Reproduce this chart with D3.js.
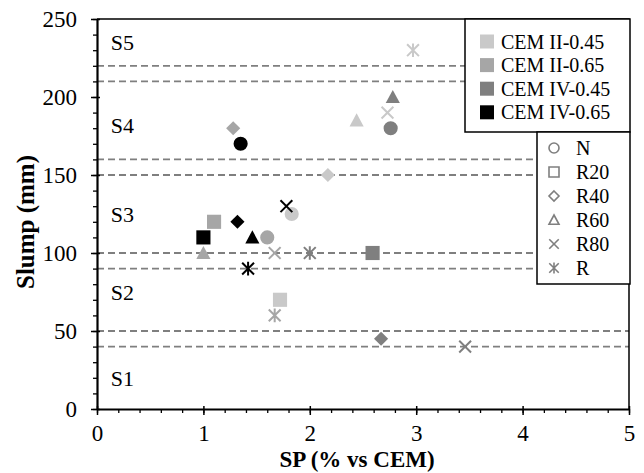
<!DOCTYPE html>
<html>
<head>
<meta charset="utf-8">
<script src="https://cdn.jsdelivr.net/npm/d3@7"></script>
<style>
  body { margin: 0; background: #fff; }
  svg { display: block; }
  text { font-family: "Liberation Serif", "Times New Roman", serif; fill: #000; }
</style>
</head>
<body>
<svg id="chart" width="644" height="473"></svg>
<script>
// Cement / water-cement series and their greys
const seriesNames = ["CEM II-0.45", "CEM II-0.65", "CEM IV-0.45", "CEM IV-0.65"];
const seriesColors = ["#c9c9c9", "#a6a6a6", "#7f7f7f", "#000000"];
// Aggregate replacement mixes (marker shape per mix)
const mixNames = ["N", "R20", "R40", "R60", "R80", "R"];

// SP dosage (% vs cement) and slump (mm), ordered as mixNames
const spCEMII045    = [1.83, 1.72, 2.17, 2.44, 2.73, 2.97];
const slumpCEMII045 = [125, 70, 150, 185, 190, 230];
const spCEMII065    = [1.60, 1.10, 1.28, 1.00, 1.67, 1.67];
const slumpCEMII065 = [110, 120, 180, 100, 100, 60];
const spCEMIV045    = [2.76, 2.59, 2.67, 2.78, 3.46, 2.00];
const slumpCEMIV045 = [180, 100, 45, 200, 40, 100];
const spCEMIV065    = [1.35, 1.00, 1.32, 1.46, 1.78, 1.42];
const slumpCEMIV065 = [170, 110, 120, 110, 130, 90];

// Slump class boundaries (mm) and class labels
const classLimits = [220, 210, 160, 150, 100, 90, 50, 40];
const classNames = ["S1", "S2", "S3", "S4", "S5"];
const classLabelY = [20, 75, 125, 182, 235];

const xTicks = [0, 1, 2, 3, 4, 5];
const yTicks = [0, 50, 100, 150, 200, 250];

const spBySeries = [spCEMII045, spCEMII065, spCEMIV045, spCEMIV065];
const slumpBySeries = [slumpCEMII045, slumpCEMII065, slumpCEMIV045, slumpCEMIV065];

const svg = d3.select("#chart");
const plot = { left: 97, right: 629, top: 19, bottom: 409 };

const x = d3.scaleLinear().domain([0, 5]).range([plot.left, plot.right]);
const y = d3.scaleLinear().domain([0, 250]).range([plot.bottom, plot.top]);

// Marker shapes, size = nominal width squared
const shapes = {
  N: { fill: true, draw(c, s) { const r = Math.sqrt(s) / 2; c.moveTo(r, 0); c.arc(0, 0, r, 0, 2 * Math.PI); } },
  R20: { fill: true, draw(c, s) { const r = Math.sqrt(s) / 2; c.rect(-r, -r, 2 * r, 2 * r); } },
  R40: { fill: true, draw(c, s) { const r = Math.sqrt(s) / 2; c.moveTo(0, -r); c.lineTo(r, 0); c.lineTo(0, r); c.lineTo(-r, 0); c.closePath(); } },
  R60: { fill: true, draw(c, s) { const r = Math.sqrt(s) / 2; c.moveTo(0, -r); c.lineTo(r, r * 0.85); c.lineTo(-r, r * 0.85); c.closePath(); } },
  R80: { fill: false, draw(c, s) { const r = Math.sqrt(s) / 2; c.moveTo(-r, -r); c.lineTo(r, r); c.moveTo(-r, r); c.lineTo(r, -r); } },
  R:   { fill: false, draw(c, s) { const r = Math.sqrt(s) / 2; c.moveTo(-r, -r); c.lineTo(r, r); c.moveTo(-r, r); c.lineTo(r, -r); c.moveTo(0, -r * 1.15); c.lineTo(0, r * 1.15); } }
};

// Slump class boundary lines
svg.append("g").selectAll("line").data(classLimits).join("line")
  .attr("x1", plot.left).attr("x2", plot.right)
  .attr("y1", d => y(d)).attr("y2", d => y(d))
  .attr("stroke", "#7f7f7f").attr("stroke-width", 1.8)
  .attr("stroke-dasharray", "7,4");

// Class labels
svg.append("g").selectAll("text").data(classNames).join("text")
  .attr("x", x(0.13)).attr("y", (d, i) => y(classLabelY[i]))
  .attr("dy", "0.35em")
  .attr("font-size", 22)
  .text(d => d);

// Plot frame (top and right)
svg.append("path")
  .attr("d", `M${plot.left},${plot.top}H${plot.right}V${plot.bottom}`)
  .attr("fill", "none").attr("stroke", "#000").attr("stroke-width", 1.5);

// Y axis: minor ticks, major ticks, labels
const yMinor = d3.range(0, 251, 10);
svg.append("g").attr("transform", `translate(${plot.left},0)`)
  .call(d3.axisLeft(y).tickValues(yMinor).tickSize(4).tickFormat(""))
  .call(g => g.select(".domain").remove())
  .call(g => g.selectAll("line").attr("stroke-width", 1.3));
svg.append("g").attr("transform", `translate(${plot.left},0)`)
  .call(d3.axisRight(y).tickValues(yTicks).tickSize(3).tickFormat(""))
  .call(g => g.select(".domain").remove())
  .call(g => g.selectAll("line").attr("stroke-width", 1.5));
svg.append("g").attr("transform", `translate(${plot.left},0)`)
  .call(d3.axisLeft(y).tickValues(yTicks).tickSizeInner(6).tickSizeOuter(0).tickPadding(14))
  .call(g => g.select(".domain").attr("stroke-width", 2.2))
  .call(g => g.selectAll("line").attr("stroke-width", 1.5))
  .call(g => g.selectAll("text").attr("font-size", 23).attr("font-family", "Liberation Serif"));

// X axis: minor ticks, major ticks, labels
const xMinor = d3.range(0, 5.001, 0.2);
svg.append("g").attr("transform", `translate(0,${plot.bottom})`)
  .call(d3.axisBottom(x).tickValues(xMinor).tickSize(4).tickFormat(""))
  .call(g => g.select(".domain").remove())
  .call(g => g.selectAll("line").attr("stroke-width", 1.3));
svg.append("g").attr("transform", `translate(0,${plot.bottom})`)
  .call(d3.axisTop(x).tickValues(xTicks).tickSize(3).tickFormat(""))
  .call(g => g.select(".domain").remove())
  .call(g => g.selectAll("line").attr("stroke-width", 1.5));
svg.append("g").attr("transform", `translate(0,${plot.bottom})`)
  .call(d3.axisBottom(x).tickValues(xTicks).tickSizeInner(6).tickSizeOuter(0).tickPadding(10).tickFormat(d3.format("d")))
  .call(g => g.select(".domain").attr("stroke-width", 2.2))
  .call(g => g.selectAll("line").attr("stroke-width", 1.5))
  .call(g => g.selectAll("text").attr("font-size", 23).attr("font-family", "Liberation Serif"));

// Axis titles
svg.append("text")
  .attr("x", 357).attr("y", 467)
  .attr("text-anchor", "middle")
  .attr("font-size", 23).attr("font-weight", "bold")
  .text("SP (% vs CEM)");
svg.append("text")
  .attr("transform", "translate(34,222) rotate(-90)")
  .attr("text-anchor", "middle")
  .attr("font-size", 25).attr("font-weight", "bold")
  .text("Slump (mm)");

// Data points
const points = [];
seriesNames.forEach((s, si) => {
  mixNames.forEach((m, mi) => {
    points.push({ series: si, mix: m, sp: spBySeries[si][mi], slump: slumpBySeries[si][mi] });
  });
});
const symbol = d3.symbol();
svg.append("g").selectAll("path").data(points).join("path")
  .attr("transform", d => `translate(${x(d.sp)},${y(d.slump)})`)
  .attr("d", d => symbol.type(shapes[d.mix]).size(d.mix === "R80" || d.mix === "R" ? 140 : 200)())
  .attr("fill", d => shapes[d.mix].fill ? seriesColors[d.series] : "none")
  .attr("stroke", d => seriesColors[d.series])
  .attr("stroke-width", d => shapes[d.mix].fill ? 0 : 2);

// Legend: series colours
const leg1 = svg.append("g");
leg1.append("rect")
  .attr("x", 465).attr("y", 19).attr("width", 165).attr("height", 113)
  .attr("fill", "#fff").attr("stroke", "#000").attr("stroke-width", 1.5);
seriesNames.forEach((s, i) => {
  const cy = 41.5 + i * 23.6;
  leg1.append("rect").attr("x", 480).attr("y", cy - 7).attr("width", 14).attr("height", 14)
    .attr("fill", seriesColors[i]);
  leg1.append("text").attr("x", 501).attr("y", cy).attr("dy", "0.35em")
    .attr("font-size", 20).text(s);
});

// Legend: mix marker shapes
const leg2 = svg.append("g");
leg2.append("rect")
  .attr("x", 537).attr("y", 132).attr("width", 93).attr("height", 152)
  .attr("fill", "#fff").attr("stroke", "#000").attr("stroke-width", 1.5);
mixNames.forEach((m, i) => {
  const cy = 148 + i * 24;
  leg2.append("path")
    .attr("transform", `translate(554,${cy})`)
    .attr("d", symbol.type(shapes[m]).size(m === "R80" || m === "R" ? 90 : 100)())
    .attr("fill", "none").attr("stroke", "#7f7f7f").attr("stroke-width", 1.6);
  leg2.append("text").attr("x", 576).attr("y", cy).attr("dy", "0.35em")
    .attr("font-size", 20).text(m);
});
</script>
</body>
</html>
